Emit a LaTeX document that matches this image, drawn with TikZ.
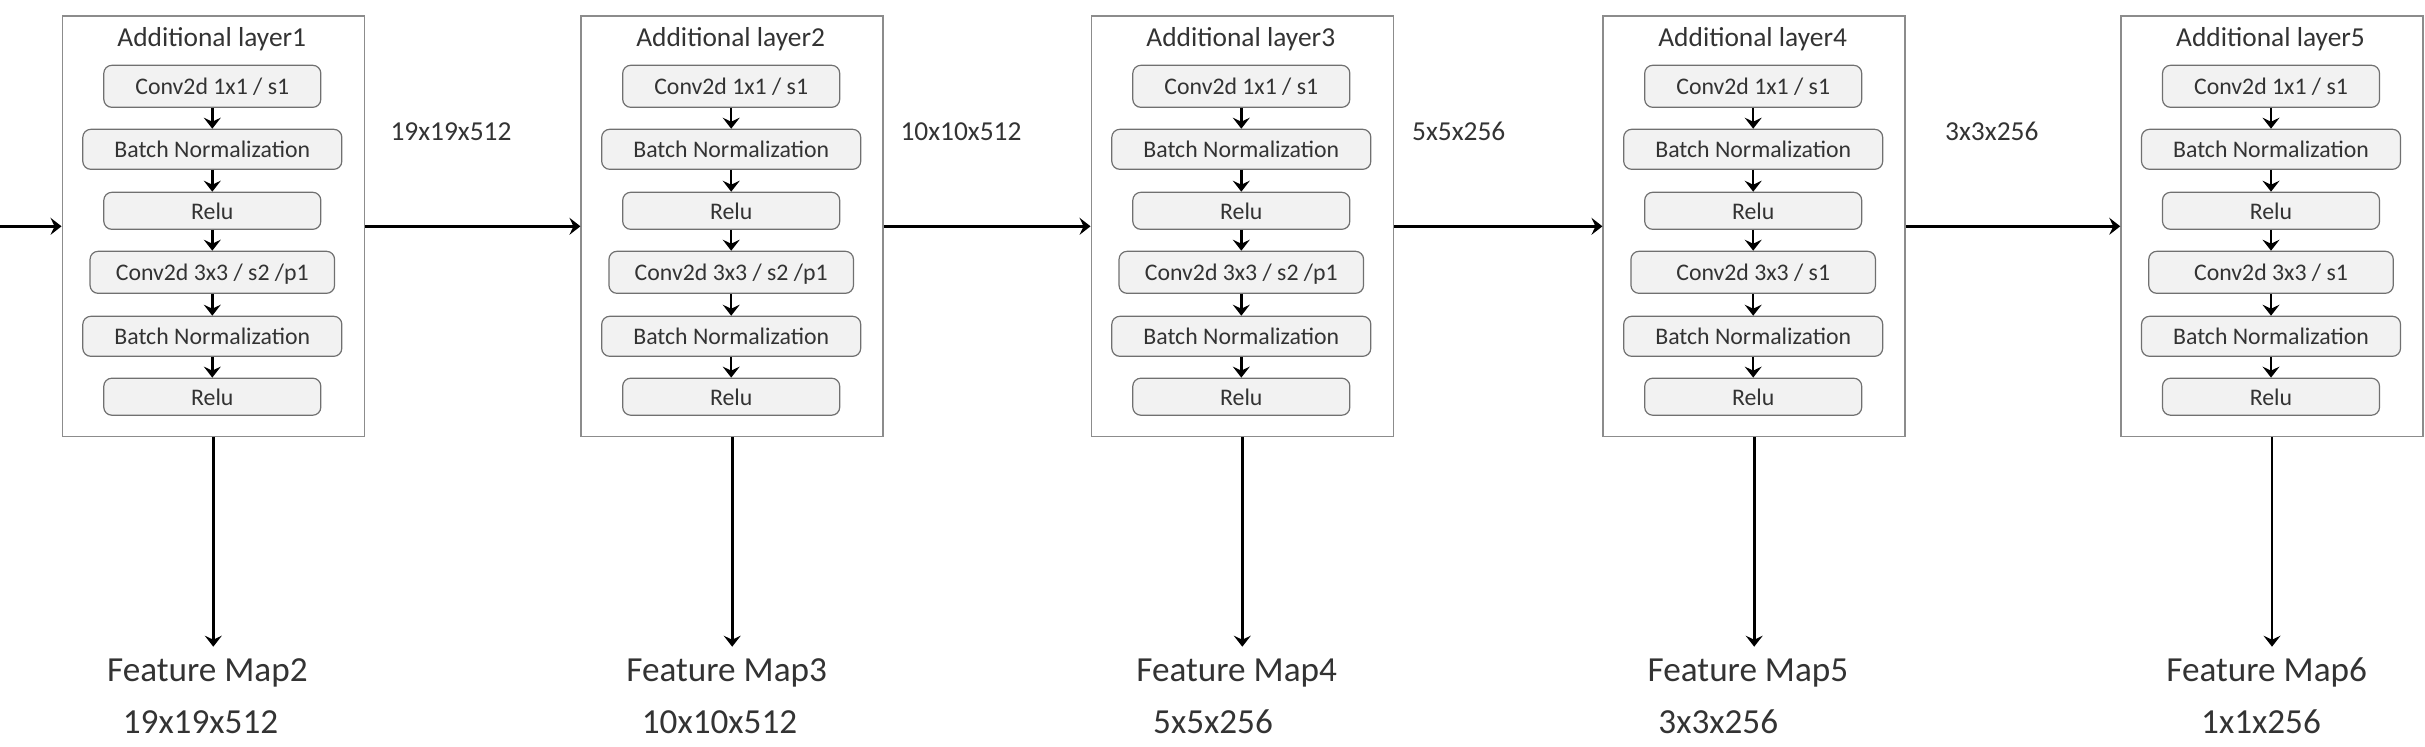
\documentclass[tikz,border=0pt]{standalone}
\usepackage{fontspec}
\setmainfont{Carlito}
\usetikzlibrary{arrows.meta}

\definecolor{textgray}{HTML}{333333}
\definecolor{boxline}{HTML}{8C8C8C}
\definecolor{opline}{HTML}{707070}
\definecolor{opfill}{HTML}{F2F2F2}

\tikzset{
  layerbox/.style={draw=boxline, line width=0.75pt, minimum width=151pt, minimum height=210.25pt, inner sep=0pt},
  opbox/.style={draw=opline, fill=opfill, line width=0.6pt, rounded corners=4pt, inner sep=0pt,
    font=\fontsize{11.9pt}{13pt}\selectfont, text height=8.4pt, text depth=0pt},
  titletext/.style={inner sep=0pt, font=\fontsize{13.7pt}{15pt}\selectfont},
  sizetext/.style={inner sep=0pt, font=\fontsize{13.7pt}{15pt}\selectfont},
  maptext/.style={inner sep=0pt, font=\fontsize{17.6pt}{20pt}\selectfont},
  oparrow/.style={->, line width=1.2pt},
  flowarrow/.style={->, line width=1.4pt}
}

\begin{document}
\begin{tikzpicture}[x=0.5pt,y=-0.5pt, text=textgray,
    >={Stealth[length=5.5pt,width=8.5pt,inset=2pt]}]

% Canvas in pixels of the 2425x746 sketch (y runs downwards)
\useasboundingbox (0,0) rectangle (2425,746);

% --- One additional layer ---
% #1 layer index
% #2 centre x of the layer box
% #3 text of the second convolution
\newcommand{\drawaddlayer}[3]{
    \node[layerbox] (layer#1) at (#2,226.3) {};
    \node[titletext, anchor=base] (title#1) at (#2-1.5,46) {Additional layer#1};

    \node[opbox, minimum width=108.5pt,  minimum height=21pt]   (conva#1) at (#2-1,86.3)  {Conv2d 1x1 / s1};
    \node[opbox, minimum width=129.5pt,  minimum height=20pt]   (bna#1)   at (#2-1,149.3) {Batch Normalization};
    \node[opbox, minimum width=108.5pt,  minimum height=18.5pt] (relua#1) at (#2-1,210.8) {Relu};
    \node[opbox, minimum width=122.25pt, minimum height=21pt]   (convb#1) at (#2-1,272.3) {#3};
    \node[opbox, minimum width=129.5pt,  minimum height=20pt]   (bnb#1)   at (#2-1,336.3) {Batch Normalization};
    \node[opbox, minimum width=108.5pt,  minimum height=18.5pt] (relub#1) at (#2-1,396.7) {Relu};

    \foreach \a/\b in {conva/bna, bna/relua, relua/convb, convb/bnb, bnb/relub}
        \draw[oparrow] (\a#1) -- (\b#1);

    % output towards the feature map
    \coordinate (fmtip#1) at (#2,646.7);
    \draw[flowarrow] (layer#1.south) -- (fmtip#1);
}

% --- Layers ---
\drawaddlayer{1}{213.3}{Conv2d 3x3 / s2 /p1}
\drawaddlayer{2}{732.2}{Conv2d 3x3 / s2 /p1}
\drawaddlayer{3}{1242.3}{Conv2d 3x3 / s2 /p1}
\drawaddlayer{4}{1754.2}{Conv2d 3x3 / s1}
\drawaddlayer{5}{2272}{Conv2d 3x3 / s1}

% --- Main flow ---
\coordinate (input) at (0,226.3);
\draw[flowarrow] (input) -- (layer1.west);
\foreach \i/\j in {1/2, 2/3, 3/4, 4/5}
    \draw[flowarrow] (layer\i.east) -- (layer\j.west);

% sizes between the layers
\node[sizetext, anchor=base] (size1) at (451,140)    {19x19x512};
\node[sizetext, anchor=base] (size2) at (961,140)    {10x10x512};
\node[sizetext, anchor=base] (size3) at (1458.7,140) {5x5x256};
\node[sizetext, anchor=base] (size4) at (1991.8,140) {3x3x256};

% --- Feature maps ---
\foreach \i/\fx/\dx/\n/\dims in {1/106.7/200.5/2/19x19x512, 2/626/719.5/3/10x10x512,
        3/1136/1213/4/5x5x256, 4/1647.3/1718.3/5/3x3x256, 5/2166/2261/6/1x1x256} {
    \node[maptext, anchor=base west] (fm\i) at (\fx,681) {Feature Map\n};
    \node[maptext, anchor=base] (fmdims\i) at (\dx,733.3) {\dims};
}

\end{tikzpicture}
\end{document}
